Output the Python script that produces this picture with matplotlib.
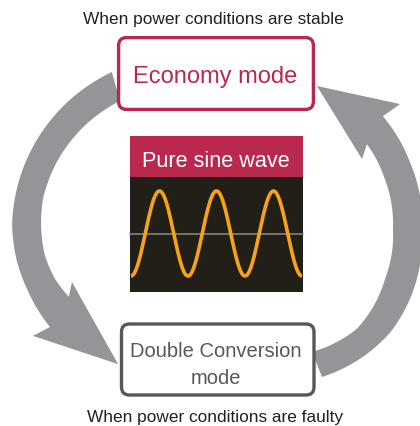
import numpy as np
import matplotlib
matplotlib.use("Agg")
import matplotlib.pyplot as plt
from matplotlib.patches import Polygon, FancyBboxPatch, Rectangle

# ---- text content ----
top_label = "When power conditions are stable"
bottom_label = "When power conditions are faulty"
economy_label = "Economy mode"
double_label = ["Double Conversion", "mode"]
wave_label = "Pure sine wave"
wave_cycles = 3

# ---- colours ----
CRIMSON = "#B8284F"
ARROW_GRAY = "#939598"
BOX_GRAY = "#58585A"
DARK = "#221F18"
ORANGE = "#F7A21B"
TEXT = "#231F20"

fig = plt.figure(figsize=(4.2, 4.27), dpi=100)
ax = fig.add_axes([0, 0, 1, 1])
ax.set_xlim(0, 420)
ax.set_ylim(427, 0)
ax.axis("off")

REG = ["Liberation Sans", "DejaVu Sans"]


def polar(c, r, th):
    t = np.radians(th)
    return np.column_stack([c[0] + r * np.cos(t), c[1] + r * np.sin(t)])


def curved_arrow(c, outer_pts, inner_pts, head_outer, tip, head_inner):
    ot = np.array([p[0] for p in outer_pts]); orr = np.array([p[1] for p in outer_pts])
    it = np.array([p[0] for p in inner_pts]); ir = np.array([p[1] for p in inner_pts])
    th_o = np.linspace(ot[0], ot[-1], 120)
    th_i = np.linspace(it[0], it[-1], 120)
    so = np.argsort(ot); si = np.argsort(it)
    r_o = np.interp(th_o, ot[so], orr[so])
    r_i = np.interp(th_i, it[si], ir[si])
    outer = polar(c, r_o, th_o)
    inner = polar(c, r_i, th_i)[::-1]
    head = np.vstack([polar(c, head_outer[0], head_outer[1]),
                      polar(c, tip[0], tip[1]),
                      polar(c, head_inner[0], head_inner[1])])
    pts = np.vstack([outer, head, inner])
    ax.add_patch(Polygon(pts, closed=True, facecolor=ARROW_GRAY, edgecolor="none", zorder=1))


# left arrow (Economy -> Double Conversion)
curved_arrow((185, 232),
             [(245.3, 175), (182, 173), (170, 170.8), (160, 168.3), (144.6, 165.7)],
             [(243.4, 145.3), (193, 145.6), (170, 142.2), (160, 138.6), (150.5, 133.5)],
             (184.7, 145.4), (149, 116.7), (124, 155.7))
# right arrow (Double Conversion -> Economy)
curved_arrow((272, 234),
             [(70.85, 152.4), (40, 154.5), (0, 150), (-27, 155), (-46.5, 161)],
             [(71.4, 125.5), (48.5, 128), (22, 122), (-2, 121), (-25.5, 125), (-43.1, 130)],
             (181.7, -45.2), (153.7, -73), (116.5, -39.4))

# boxes
ax.add_patch(FancyBboxPatch((118.6, 38.6), 313.4 - 118.6, 110.4 - 38.6,
                            boxstyle="round,pad=0,rounding_size=8",
                            facecolor="white", edgecolor=CRIMSON, linewidth=2.4, zorder=3))
ax.add_patch(FancyBboxPatch((121.5, 325), 314 - 121.5, 396 - 325,
                            boxstyle="round,pad=0,rounding_size=8",
                            facecolor="white", edgecolor=BOX_GRAY, linewidth=2.4, zorder=3))

# sine panel
ax.add_patch(Rectangle((130, 137), 173, 41, facecolor=CRIMSON, edgecolor="none", zorder=3))
ax.add_patch(Rectangle((130, 178), 173, 115, facecolor=DARK, edgecolor="none", zorder=3))
ax.plot([130, 303], [235, 235], color="#8C8B83", lw=1.1, zorder=4)
x0, x1, yc, amp = 131, 302, 234.5, 42.5
xs = np.linspace(x0, x1, 600)
ys = yc + amp * np.cos(2 * np.pi * wave_cycles * (xs - x0) / (x1 - x0))
ax.plot(xs, ys, color=ORANGE, lw=2.6, zorder=5, solid_capstyle="butt")

# texts
ax.text(213, 24, top_label, ha="center", va="baseline", fontsize=12.4, family=REG, color=TEXT, zorder=6)
ax.text(215, 422, bottom_label, ha="center", va="baseline", fontsize=12.4, family=REG, color=TEXT, zorder=6)
ax.text(215, 83.3, economy_label, ha="center", va="baseline", fontsize=17, family=REG, color=CRIMSON, zorder=6)
ax.text(216, 166.7, wave_label, ha="center", va="baseline", fontsize=15.6, family=REG, color="white", zorder=6)
ax.text(215.5, 357.3, double_label[0], ha="center", va="baseline", fontsize=14.5, family=REG, color=BOX_GRAY, zorder=6)
ax.text(216, 384, double_label[1], ha="center", va="baseline", fontsize=14.5, family=REG, color=BOX_GRAY, zorder=6)

fig.savefig("out.png", dpi=100)
